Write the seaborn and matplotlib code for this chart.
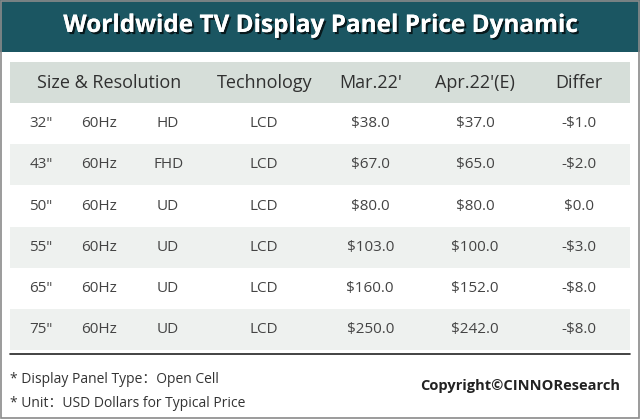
import numpy as np
import matplotlib
matplotlib.use("Agg")
import matplotlib.pyplot as plt
import matplotlib.patheffects as pe
from matplotlib.colors import ListedColormap
from matplotlib.patches import Rectangle
from matplotlib.lines import Line2D
import seaborn as sns

sns.set_theme(style="white")
plt.rcParams["font.family"] = ["Open Sans", "Noto Sans CJK SC", "DejaVu Sans"]

title = "Worldwide TV Display Panel Price Dynamic"
headers = ["Size & Resolution", "Technology", "Mar.22'", "Apr.22'(E)", "Differ"]
sizes = ['32"', '43"', '50"', '55"', '65"', '75"']
refresh = ["60Hz", "60Hz", "60Hz", "60Hz", "60Hz", "60Hz"]
resolution = ["HD", "FHD", "UD", "UD", "UD", "UD"]
technology = ["LCD", "LCD", "LCD", "LCD", "LCD", "LCD"]
mar_price = [38.0, 67.0, 80.0, 103.0, 160.0, 250.0]
apr_price = [37.0, 65.0, 80.0, 100.0, 152.0, 242.0]
differ = [-1.0, -2.0, 0.0, -3.0, -8.0, -8.0]
notes = ["* Display Panel Type：Open Cell", "* Unit：USD Dollars for Typical Price"]
copyright_txt = "Copyright©CINNOResearch"

def money(v):
    return ("-$%.1f" % abs(v)) if v < 0 else ("$%.1f" % v)

fig = plt.figure(figsize=(6.4, 4.19), dpi=100)
fig.patch.set_facecolor("white")

# title bar
fig.add_artist(Rectangle((0, 1 - 52 / 419), 1, 52 / 419, transform=fig.transFigure,
                         facecolor="#1b5662", edgecolor="none"))
fig.text(0.5, 1 - 26 / 419, title, ha="center", va="center", color="white",
         fontsize=17.5, fontweight="bold",
         path_effects=[pe.withSimplePatchShadow(offset=(1.5, -1.5), shadow_rgbFace="black", alpha=0.7),
                       pe.Normal()])

# table background stripes: 0 header, 1 white, 2 light
stripe = np.array([[0]] + [[1 if i % 2 == 0 else 2] for i in range(len(sizes))])
ax = fig.add_axes([10 / 640, 1 - 350 / 419, 620 / 640, 288 / 419])
sns.heatmap(stripe, ax=ax, cbar=False, cmap=ListedColormap(["#d6ded9", "#ffffff", "#eef1ef"]),
            vmin=-0.5, vmax=2.5, xticklabels=False, yticklabels=False, linewidths=0)
ax.set_xlim(0, 1)

hcol = [0.16, 0.41, 0.581, 0.75, 0.918]
for x, h in zip(hcol, headers):
    ax.text(x, 0.5, h, ha="center", va="center", fontsize=13, color="#303030")

cols = [0.05, 0.1435, 0.255, 0.41, 0.581, 0.75, 0.918]
for i in range(len(sizes)):
    vals = [sizes[i], refresh[i], resolution[i], technology[i],
            money(mar_price[i]), money(apr_price[i]), money(differ[i])]
    for x, v in zip(cols, vals):
        ax.text(x, i + 1.5, v, ha="center", va="center", fontsize=11, color="#444444")

# separator line and footer
fig.add_artist(Line2D([10 / 640, 630 / 640], [1 - 354 / 419] * 2, transform=fig.transFigure,
                      color="#222222", lw=1.2))
fig.text(10 / 640, 1 - 379 / 419, notes[0], ha="left", va="center", fontsize=10, color="#333333")
fig.text(10 / 640, 1 - 403 / 419, notes[1], ha="left", va="center", fontsize=10, color="#333333")
fig.text(620 / 640, 1 - 386 / 419, copyright_txt, ha="right", va="center", fontsize=10.5,
         fontweight="bold", color="#222222")

# outer frame
fig.add_artist(Rectangle((0.002, 0.002), 0.996, 0.996, transform=fig.transFigure,
                         facecolor="none", edgecolor="#8a8a8a", lw=1.2))

fig.savefig("out.png", dpi=100)
